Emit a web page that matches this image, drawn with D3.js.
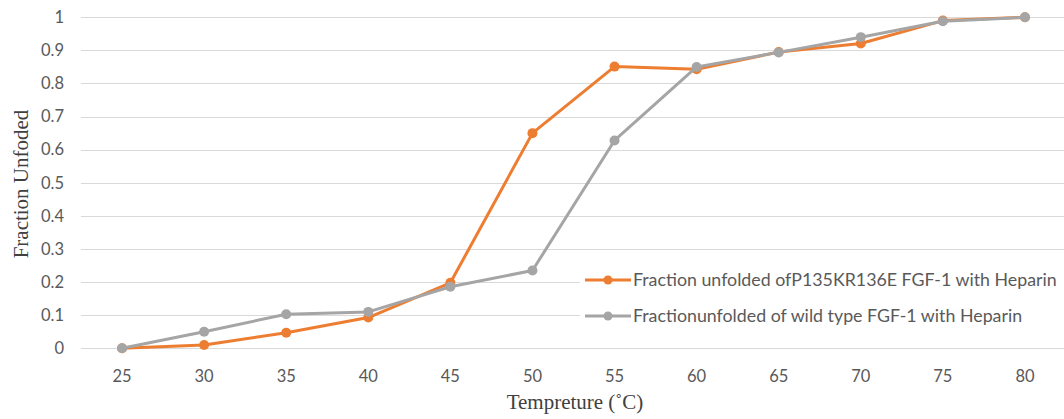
<!DOCTYPE html>
<html>
<head>
<meta charset="utf-8">
<script src="https://cdn.jsdelivr.net/npm/d3@7"></script>
<style>
  body { margin: 0; background: #fff; }
  svg { display: block; }
</style>
</head>
<body>
<svg id="chart" width="1064" height="419"></svg>
<script>
// temperatures (category axis)
var temps = [25, 30, 35, 40, 45, 50, 55, 60, 65, 70, 75, 80];
// fraction unfolded, mutant and wild type
var mutant = [0, 0.01, 0.047, 0.093, 0.198, 0.65, 0.851, 0.843, 0.895, 0.921, 0.99, 1];
var wildType = [0, 0.05, 0.103, 0.11, 0.186, 0.235, 0.628, 0.85, 0.894, 0.94, 0.988, 1];
var yTicks = [0, 0.1, 0.2, 0.3, 0.4, 0.5, 0.6, 0.7, 0.8, 0.9, 1];
var seriesNames = ["Fraction unfolded ofP135KR136E FGF-1 with Heparin",
                   "Fractionunfolded of wild type FGF-1 with Heparin"];
var seriesColors = ["#ED7D31", "#A5A5A5"];

var svg = d3.select("#chart"),
    width = +svg.attr("width"),
    height = +svg.attr("height");

var x = d3.scaleBand().domain(temps).range([81, 1066]);
var y = d3.scaleLinear().domain([0, 1]).range([348.3, 17.3]);
var cx = function(t) { return x(t) + x.bandwidth() / 2; };

var sans = "Lato, 'Open Sans', sans-serif";

// gridlines
svg.append("g")
  .selectAll("line")
  .data(yTicks)
  .enter().append("line")
    .attr("x1", 81).attr("x2", width)
    .attr("y1", function(d) { return Math.round(y(d)) + 0.5; })
    .attr("y2", function(d) { return Math.round(y(d)) + 0.5; })
    .attr("stroke", "#D9D9D9")
    .attr("stroke-width", 1);

// y tick labels
svg.append("g")
  .selectAll("text")
  .data(yTicks)
  .enter().append("text")
    .attr("x", 64)
    .attr("y", function(d) { return y(d); })
    .attr("dy", "0.35em")
    .attr("text-anchor", "end")
    .attr("font-family", sans)
    .attr("font-size", 16.5)
    .attr("fill", "#595959")
    .text(function(d) { return d; });

// x tick labels
svg.append("g")
  .selectAll("text")
  .data(temps)
  .enter().append("text")
    .attr("x", cx)
    .attr("y", 382)
    .attr("text-anchor", "middle")
    .attr("font-family", sans)
    .attr("font-size", 16.5)
    .attr("fill", "#595959")
    .text(function(d) { return d; });

// axis titles
svg.append("text")
  .attr("x", 575).attr("y", 409)
  .attr("text-anchor", "middle")
  .attr("font-family", "'Liberation Serif', serif")
  .attr("font-size", 21)
  .attr("fill", "#404040")
  .text("Tempreture (\u02DAC)");

svg.append("text")
  .attr("transform", "translate(28,184) rotate(-90)")
  .attr("text-anchor", "middle")
  .attr("font-family", "'Liberation Serif', serif")
  .attr("font-size", 21)
  .attr("fill", "#404040")
  .text("Fraction Unfoded");

// lines
var line = d3.line()
  .x(function(d, i) { return cx(temps[i]); })
  .y(function(d) { return y(d); });

[mutant, wildType].forEach(function(vals, k) {
  var g = svg.append("g");
  g.append("path")
    .datum(vals)
    .attr("d", line)
    .attr("fill", "none")
    .attr("stroke", seriesColors[k])
    .attr("stroke-width", 3)
    .attr("stroke-linejoin", "round");
  g.selectAll("circle")
    .data(vals)
    .enter().append("circle")
      .attr("cx", function(d, i) { return cx(temps[i]); })
      .attr("cy", function(d) { return y(d); })
      .attr("r", 5)
      .attr("fill", seriesColors[k]);
});

// legend
var legend = svg.append("g");
legend.append("rect")
  .attr("x", 580).attr("y", 262)
  .attr("width", width - 580).attr("height", 72)
  .attr("fill", "#fff");

var item = legend.selectAll(".item")
  .data(seriesNames)
  .enter().append("g")
    .attr("class", "item")
    .attr("transform", function(d, i) { return "translate(585," + (280 + i * 36) + ")"; });

item.append("line")
  .attr("x1", 0).attr("x2", 46)
  .attr("stroke", function(d, i) { return seriesColors[i]; })
  .attr("stroke-width", 3);
item.append("circle")
  .attr("cx", 23).attr("r", 4.5)
  .attr("fill", function(d, i) { return seriesColors[i]; });
item.append("text")
  .attr("x", 48)
  .attr("dy", "0.35em")
  .attr("font-family", sans)
  .attr("font-size", 17.8)
  .attr("fill", "#595959")
  .text(function(d) { return d; });
</script>
</body>
</html>
